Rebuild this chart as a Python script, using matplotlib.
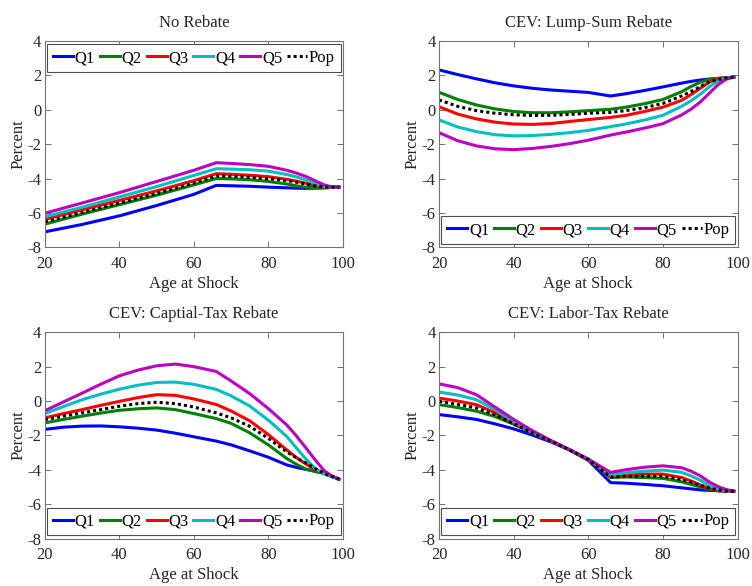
import numpy as np
import matplotlib
matplotlib.use("Agg")
import matplotlib.pyplot as plt

plt.rcParams['font.family'] = ['Liberation Serif', 'DejaVu Serif']
plt.rcParams['axes.unicode_minus'] = False

# ages
age_a = [20, 30, 40, 50, 60, 66, 70, 75, 80, 85, 87.5, 90, 92.5, 95, 97, 99]
age_b = [20, 25, 30, 35, 40, 45, 50, 55, 60, 66, 70, 75, 80, 85, 87.5, 90, 92.5, 95, 97, 99]

# No Rebate
nr_q1 = [-7.10, -6.67, -6.17, -5.57, -4.92, -4.40, -4.42, -4.45, -4.50, -4.54, -4.56, -4.57, -4.56, -4.54, -4.52, -4.50]
nr_q2 = [-6.65, -6.07, -5.52, -4.97, -4.37, -4.00, -4.02, -4.07, -4.17, -4.32, -4.42, -4.50, -4.54, -4.54, -4.52, -4.50]
nr_q3 = [-6.37, -5.82, -5.27, -4.72, -4.12, -3.72, -3.75, -3.81, -3.89, -4.05, -4.15, -4.27, -4.40, -4.49, -4.50, -4.50]
nr_q4 = [-6.22, -5.67, -5.07, -4.47, -3.82, -3.43, -3.45, -3.49, -3.57, -3.77, -3.90, -4.07, -4.30, -4.47, -4.50, -4.50]
nr_q5 = [-6.02, -5.42, -4.82, -4.17, -3.52, -3.08, -3.12, -3.19, -3.29, -3.52, -3.68, -3.87, -4.12, -4.37, -4.48, -4.50]
nr_pop = [-6.52, -5.97, -5.42, -4.87, -4.27, -3.85, -3.87, -3.93, -4.01, -4.12, -4.21, -4.32, -4.42, -4.49, -4.50, -4.50]

# CEV: Lump-Sum Rebate
ls_q1 = [2.32, 2.05, 1.80, 1.57, 1.39, 1.25, 1.15, 1.08, 1.01, 0.80, 0.93, 1.12, 1.33, 1.55, 1.65, 1.73, 1.79, 1.82, 1.86, 1.90]
ls_q2 = [1.02, 0.60, 0.28, 0.05, -0.10, -0.17, -0.17, -0.12, -0.05, 0.03, 0.15, 0.35, 0.60, 1.05, 1.35, 1.60, 1.78, 1.83, 1.86, 1.90]
ls_q3 = [0.18, -0.25, -0.53, -0.72, -0.83, -0.85, -0.80, -0.68, -0.57, -0.44, -0.33, -0.10, 0.15, 0.55, 0.88, 1.25, 1.62, 1.83, 1.86, 1.90]
ls_q4 = [-0.59, -1.00, -1.27, -1.45, -1.52, -1.50, -1.43, -1.33, -1.20, -0.98, -0.83, -0.60, -0.32, 0.20, 0.52, 0.90, 1.35, 1.70, 1.84, 1.90]
ls_q5 = [-1.33, -1.80, -2.10, -2.27, -2.32, -2.25, -2.13, -1.97, -1.77, -1.47, -1.30, -1.07, -0.81, -0.30, 0.03, 0.45, 0.98, 1.50, 1.78, 1.90]
ls_pop = [0.57, 0.20, -0.05, -0.20, -0.29, -0.33, -0.32, -0.27, -0.20, -0.15, -0.05, 0.12, 0.37, 0.80, 1.06, 1.35, 1.63, 1.77, 1.85, 1.90]

# CEV: Captial-Tax Rebate
ct_q1 = [-1.65, -1.52, -1.46, -1.45, -1.50, -1.58, -1.69, -1.87, -2.08, -2.33, -2.55, -2.90, -3.27, -3.72, -3.86, -3.97, -4.08, -4.20, -4.37, -4.55]
ct_q2 = [-1.27, -1.07, -0.88, -0.70, -0.54, -0.45, -0.40, -0.50, -0.73, -1.02, -1.30, -1.85, -2.55, -3.35, -3.68, -3.95, -4.10, -4.22, -4.38, -4.55]
ct_q3 = [-0.98, -0.73, -0.50, -0.25, -0.02, 0.20, 0.37, 0.33, 0.12, -0.20, -0.58, -1.15, -1.95, -2.85, -3.28, -3.65, -3.98, -4.22, -4.38, -4.55]
ct_q4 = [-0.73, -0.32, 0.08, 0.40, 0.69, 0.92, 1.08, 1.10, 0.97, 0.68, 0.30, -0.29, -1.11, -2.07, -2.72, -3.35, -3.90, -4.25, -4.40, -4.55]
ct_q5 = [-0.56, -0.05, 0.46, 0.98, 1.47, 1.80, 2.05, 2.15, 2.00, 1.72, 1.17, 0.43, -0.44, -1.40, -2.02, -2.70, -3.40, -4.05, -4.35, -4.55]
ct_pop = [-1.08, -0.88, -0.69, -0.50, -0.30, -0.15, -0.07, -0.15, -0.35, -0.69, -0.98, -1.47, -2.17, -2.97, -3.30, -3.60, -3.92, -4.20, -4.38, -4.55]

# CEV: Labor-Tax Rebate
lt_q1 = [-0.79, -0.92, -1.07, -1.33, -1.62, -1.98, -2.38, -2.85, -3.45, -4.75, -4.78, -4.85, -4.93, -5.05, -5.11, -5.17, -5.20, -5.22, -5.24, -5.25]
lt_q2 = [-0.21, -0.38, -0.59, -0.90, -1.35, -1.85, -2.33, -2.85, -3.42, -4.45, -4.42, -4.45, -4.50, -4.70, -4.85, -5.00, -5.14, -5.22, -5.24, -5.25]
lt_q3 = [0.17, 0.00, -0.21, -0.68, -1.28, -1.83, -2.33, -2.85, -3.40, -4.38, -4.32, -4.25, -4.25, -4.45, -4.65, -4.88, -5.08, -5.22, -5.24, -5.25]
lt_q4 = [0.52, 0.35, 0.08, -0.50, -1.20, -1.80, -2.32, -2.83, -3.38, -4.29, -4.18, -4.08, -4.02, -4.15, -4.35, -4.60, -4.92, -5.15, -5.22, -5.25]
lt_q5 = [1.00, 0.78, 0.37, -0.35, -1.07, -1.72, -2.30, -2.83, -3.38, -4.15, -4.00, -3.85, -3.77, -3.88, -4.08, -4.35, -4.72, -5.00, -5.15, -5.25]
lt_pop = [-0.02, -0.20, -0.40, -0.80, -1.32, -1.85, -2.33, -2.85, -3.40, -4.42, -4.38, -4.36, -4.37, -4.57, -4.72, -4.90, -5.06, -5.18, -5.23, -5.25]

labels = ['Q1', 'Q2', 'Q3', 'Q4', 'Q5', 'Pop']
colors = ['#0000ff', '#008000', '#ff0000', '#00bfbf', '#bf00bf', 'black']

panels = [
    ('No Rebate', age_a, [nr_q1, nr_q2, nr_q3, nr_q4, nr_q5, nr_pop], 'upper center'),
    ('CEV: Lump-Sum Rebate', age_b, [ls_q1, ls_q2, ls_q3, ls_q4, ls_q5, ls_pop], 'lower center'),
    ('CEV: Captial-Tax Rebate', age_b, [ct_q1, ct_q2, ct_q3, ct_q4, ct_q5, ct_pop], 'lower center'),
    ('CEV: Labor-Tax Rebate', age_b, [lt_q1, lt_q2, lt_q3, lt_q4, lt_q5, lt_pop], 'lower center'),
]

# axes boxes in figure fractions (left, bottom, width, height)
boxes = [
    [0.0598, 0.578, 0.396, 0.352],
    [0.5838, 0.578, 0.397, 0.352],
    [0.0598, 0.081, 0.396, 0.352],
    [0.5838, 0.081, 0.397, 0.352],
]

fig = plt.figure(figsize=(7.52, 5.86), dpi=100)

for (title, ages, series, loc), box in zip(panels, boxes):
    ax = fig.add_axes(box)
    for vals, lab, col in zip(series, labels, colors):
        if lab == 'Pop':
            ax.plot(ages, vals, color=col, lw=2.2, linestyle=(0, (1, 1)), label=lab)
        else:
            ax.plot(ages, vals, color=col, lw=2.2, label=lab)
    ax.set_xlim(20, 100)
    ax.set_ylim(-8, 4)
    ax.set_xticks([20, 40, 60, 80, 100])
    ax.set_yticks([-8, -6, -4, -2, 0, 2, 4])
    ax.tick_params(direction='in', top=True, right=True, length=4, width=0.6,
                   labelsize=12, colors='0.35', labelcolor='0.15')
    ax.tick_params(axis='x', pad=6)
    ax.tick_params(axis='y', pad=2.5)
    for sp in ax.spines.values():
        sp.set_color('0.45')
        sp.set_linewidth(0.8)
    ax.set_title(title, fontsize=12, color='0.15', pad=10)
    ax.set_xlabel('Age at Shock', fontsize=12, color='0.15', labelpad=3)
    ax.set_ylabel('Percent', fontsize=12, color='0.15', labelpad=1)
    leg = ax.legend(loc=loc, ncol=6, fontsize=12, handlelength=1.2,
                    handletextpad=0.1, columnspacing=0.3, borderpad=0.35,
                    borderaxespad=0.2, fancybox=False, framealpha=1)
    leg.get_frame().set_edgecolor('0.3')
    leg.get_frame().set_linewidth(0.8)

fig.savefig('out.png', dpi=100)
